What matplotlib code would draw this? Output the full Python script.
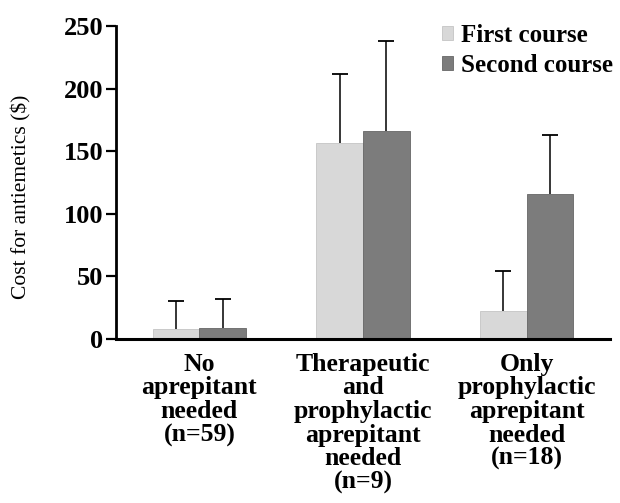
import matplotlib
matplotlib.use("Agg")
import matplotlib.pyplot as plt
import numpy as np

categories = ["No\naprepitant\nneeded\n(n=59)",
              "Therapeutic\nand\nprophylactic\naprepitant\nneeded\n(n=9)",
              "Only\nprophylactic\naprepitant\nneeded\n(n=18)"]
first_course = [8, 157, 22]
first_err = [22, 55, 32]
second_course = [9, 166, 116]
second_err = [23, 72, 47]
series_names = ["First course", "Second course"]
yticks = [0, 50, 100, 150, 200, 250]

plt.rcParams['font.family'] = ['Liberation Serif', 'DejaVu Serif']

fig = plt.figure(figsize=(6.2, 5.03), dpi=100)
ax = fig.add_axes([0.187, 0.326, 0.797, 0.622])

x = np.arange(len(categories))
w = 0.285
colors = ['#d8d8d8', '#7c7c7c']
edges = ['#c4c4c4', '#666666']
for i, (vals, errs) in enumerate([(first_course, first_err), (second_course, second_err)]):
    xs = x + (i - 0.5) * w
    vals = np.array(vals)
    errs = np.array(errs)
    ax.bar(xs, vals, w, color=colors[i], edgecolor=edges[i], linewidth=0.6,
           label=series_names[i], zorder=2)
    ax.errorbar(xs, vals, yerr=[np.zeros_like(errs), errs], fmt='none',
                ecolor='black', elinewidth=1.1, capsize=0, zorder=3)
    ax.plot(xs, vals + errs, linestyle='none', marker='_', markersize=11,
            markeredgewidth=1.3, color='black', zorder=3)

ax.set_xlim(-0.51, 2.51)
ax.set_ylim(0, 250)
ax.set_yticks(yticks)
ax.set_xticks(x)
ax.set_xticklabels(categories, fontsize=18.5, fontweight='bold', linespacing=1.03)
ax.tick_params(axis='x', length=0, pad=10)
ax.tick_params(axis='y', length=7, width=1.6, labelsize=19, direction='out', pad=2)
for lbl in ax.get_yticklabels():
    lbl.set_fontweight('bold')
ax.spines['top'].set_visible(False)
ax.spines['right'].set_visible(False)
ax.spines['left'].set_linewidth(2.0)
ax.spines['bottom'].set_linewidth(2.2)
fig.text(21/620, 1 - 197/503, "Cost for antiemetics ($)", fontsize=15.5,
         rotation=90, ha='center', va='center')

leg = fig.legend(loc='upper left', bbox_to_anchor=(442/620, 1 - 24/503), frameon=False,
                 prop=dict(family='Liberation Serif', weight='bold', size=18),
                 handlelength=0.45, handleheight=0.45, handletextpad=0.3,
                 labelspacing=0.28, borderpad=0, borderaxespad=0)

fig.savefig("out.png", dpi=100)
